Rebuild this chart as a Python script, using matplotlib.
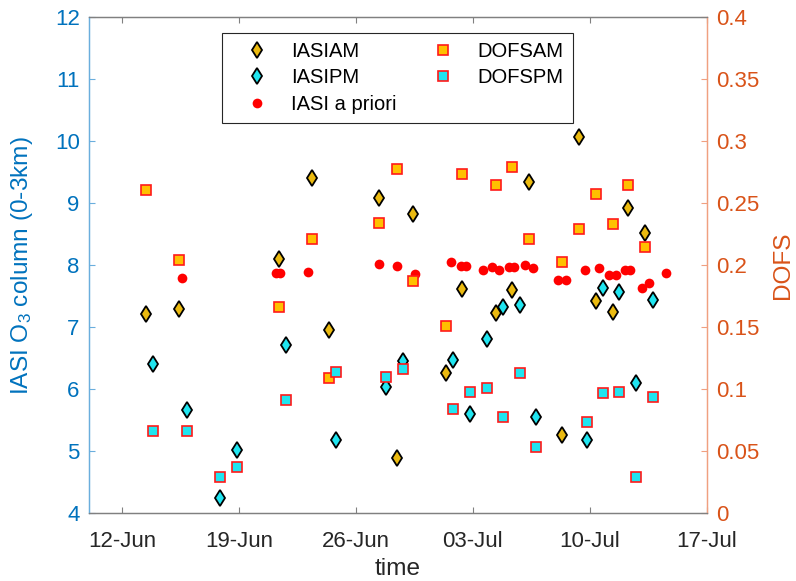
import numpy as np
import matplotlib
matplotlib.use("Agg")
import matplotlib.pyplot as plt
import matplotlib.dates as mdates
import matplotlib.ticker as mticker

plt.rcParams["font.family"] = ["Liberation Sans", "DejaVu Sans"]
plt.rcParams["mathtext.default"] = "regular"

# x positions are days after 12-Jun (fractional = overpass time)
am_days = [1.43, 3.40, 9.39, 11.37, 12.37, 15.39, 16.43, 17.40, 19.37, 20.36,
           22.37, 23.37, 24.34, 26.35, 27.35, 28.36, 29.37, 30.29, 31.32]
iasi_am = [7.22, 7.30, 8.10, 9.41, 6.95, 9.08, 4.90, 8.83, 6.27, 7.61,
           7.23, 7.60, 9.34, 5.26, 10.07, 7.43, 7.24, 8.93, 8.52]
dofs_am = [0.261, 0.204, 0.1665, 0.2215, 0.109, 0.2345, 0.278, 0.187, 0.151, 0.274,
           0.2645, 0.2795, 0.2215, 0.203, 0.229, 0.2575, 0.233, 0.2645, 0.215]

pm_days = [1.87, 3.90, 5.87, 6.86, 9.82, 12.83, 15.83, 16.83, 19.83, 20.84,
           21.84, 22.81, 23.81, 24.80, 27.82, 28.82, 29.77, 30.76, 31.80]
iasi_pm = [6.41, 5.66, 4.24, 5.02, 6.71, 5.19, 6.03, 6.46, 6.47, 5.60,
           6.81, 7.32, 7.36, 5.56, 5.19, 7.64, 7.57, 6.10, 7.44]
dofs_pm = [0.0665, 0.0665, 0.029, 0.037, 0.091, 0.114, 0.110, 0.116, 0.084, 0.0975,
           0.101, 0.078, 0.1135, 0.0535, 0.074, 0.097, 0.098, 0.029, 0.094]

apriori_days = [3.60, 9.20, 9.45, 11.16, 15.39, 16.43, 17.56, 19.71, 20.32, 20.58,
                21.58, 22.17, 22.57, 23.17, 23.47, 24.10, 24.60, 26.09, 26.59, 27.70,
                28.56, 29.13, 29.55, 30.13, 30.39, 31.12, 31.56, 32.55]
apriori = [7.79, 7.87, 7.87, 7.90, 8.02, 7.99, 7.86, 8.05, 7.99, 7.99,
           7.92, 7.98, 7.93, 7.98, 7.98, 8.00, 7.96, 7.77, 7.77, 7.93,
           7.96, 7.85, 7.85, 7.92, 7.92, 7.64, 7.71, 7.87]

t0 = mdates.date2num(np.datetime64("2017-06-12"))
x_am = t0 + np.array(am_days)
x_pm = t0 + np.array(pm_days)
x_ap = t0 + np.array(apriori_days)

BLUE = "#0072BD"
ORANGE = "#D95319"
DARK = "#262626"

fig = plt.figure(figsize=(7.96, 5.81), dpi=100)
ax = fig.add_axes([0.1114, 0.1165, 0.7764, 0.8537])
ax2 = ax.twinx()

ax.plot(x_am, iasi_am, ls="none", marker="d", ms=8.5, mfc="#EBBA10",
        mec="black", mew=1.3, label="IASIAM")
ax.plot(x_pm, iasi_pm, ls="none", marker="d", ms=8.5, mfc="#20E5F0",
        mec="black", mew=1.3, label="IASIPM")
ax.plot(x_ap, apriori, ls="none", marker="o", ms=7, mfc="#FF0000",
        mec="#FF0000", mew=0, label="IASI a priori")
ax2.plot(x_am, dofs_am, ls="none", marker="s", ms=6.5, mfc="#FFC000",
         mec="#FF1A1A", mew=1.2, label="DOFSAM")
ax2.plot(x_pm, dofs_pm, ls="none", marker="s", ms=6.5, mfc="#20E5F0",
         mec="#FF1A1A", mew=1.2, label="DOFSPM")

ax.set_xlim(t0 - 2, t0 + 35)
ax.set_ylim(4, 12)
ax2.set_ylim(0, 0.4)
ax.set_yticks(np.arange(4, 13, 1))
ax2.set_yticks(np.arange(0, 0.401, 0.05))
ax2.yaxis.set_major_formatter(mticker.FormatStrFormatter("%g"))
ax.set_xticks(t0 + np.arange(0, 36, 7))
ax.xaxis.set_major_formatter(mdates.DateFormatter("%d-%b"))

ax.tick_params(axis="x", direction="in", length=4.5, width=0.8, colors="#808080",
               labelcolor=DARK, labelsize=16, pad=13, top=True)
ax.tick_params(axis="y", direction="in", length=4.5, width=0.8, colors="#6AAEDD",
               labelcolor=BLUE, labelsize=16, pad=6.5)
ax2.tick_params(axis="y", direction="in", length=4.5, width=0.8, colors="#F0A080",
                labelcolor=ORANGE, labelsize=16, pad=6.5)

for a in (ax, ax2):
    a.spines["top"].set_color("#808080")
    a.spines["bottom"].set_color("#808080")
    a.spines["left"].set_color("#6AAEDD")
    a.spines["right"].set_color("#F0A080")
    for s in a.spines.values():
        s.set_linewidth(0.9)

ax.set_xlabel("time", fontsize=17.6, color=DARK, labelpad=4)
ax.set_ylabel("IASI O$_3$ column (0-3km)", fontsize=17.6, color=BLUE)
ax.yaxis.set_label_coords(-0.087, 0.5)
ax2.set_ylabel("DOFS", fontsize=17.6, color=ORANGE)
ax2.yaxis.set_label_coords(1.106, 0.5)

h1, l1 = ax.get_legend_handles_labels()
h2, l2 = ax2.get_legend_handles_labels()
leg = ax2.legend(h1 + h2, l1 + l2, ncol=2, loc="upper left",
                 bbox_to_anchor=(0.2157, 0.968), fontsize=14.5,
                 frameon=True, fancybox=False, framealpha=1,
                 edgecolor="#262626", handlelength=2.6, handletextpad=0.4,
                 columnspacing=1.0, labelspacing=0.36, borderpad=0.45,
                 borderaxespad=0)
leg.get_frame().set_linewidth(0.8)

fig.savefig("out.png", dpi=100)
